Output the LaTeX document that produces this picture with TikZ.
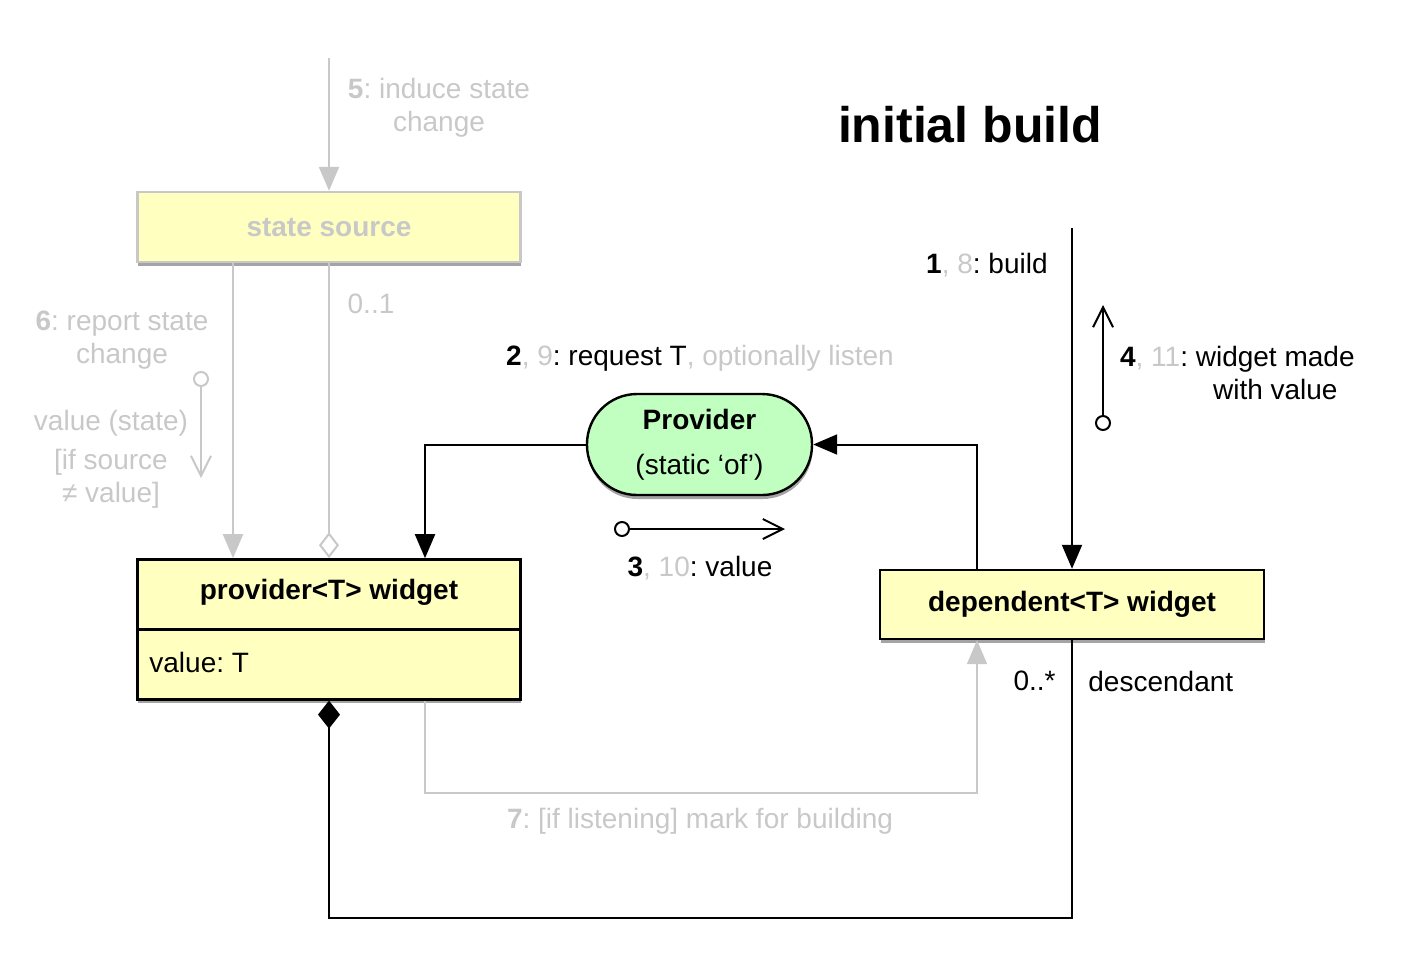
\documentclass[tikz,border=0pt]{standalone}
\usepackage{fontspec}
\setmainfont{Liberation Sans}
\usetikzlibrary{arrows.meta,positioning,shadows}
\definecolor{notegray}{RGB}{200,200,200}
\definecolor{classyellow}{RGB}{255,255,192}
\definecolor{provgreen}{RGB}{192,255,192}
\frenchspacing

\begin{document}
\begin{tikzpicture}[x=0.5pt, y=-0.5pt,
		every node/.style={font=\fontsize{14}{16.5}\selectfont, inner sep=0pt},
		boxshadow/.style={drop shadow={shadow xshift=0.3pt, shadow yshift=-2pt, opacity=0.55, fill=black!65}},
		classbox/.style={draw, rectangle, fill=classyellow, line width=1.2pt, minimum width=191.5pt, boxshadow},
		srcbox/.style={classbox, draw=notegray, text=notegray, minimum height=35pt},
		provnode/.style={draw, fill=provgreen, line width=1.2pt, rounded corners=25pt, minimum width=112.5pt, minimum height=50.5pt, align=center, boxshadow},
		note/.style={text=notegray},
		callline/.style={line width=1pt, -{Triangle[length=12pt, width=10pt]}},
		noteline/.style={line width=1pt, draw=notegray, -{Triangle[length=12pt, width=10pt]}},
		msgline/.style={line width=1pt, {Circle[open, length=8pt]}-{Straight Barb[length=10pt, width=10pt]}}]
	\useasboundingbox (0,0) rectangle (1408,966);
	
	\node[font=\fontsize{25}{30}\selectfont\bfseries] (title) at (970,125) {initial build};
	
	\node[srcbox] (src) at (329,227) {\textbf{state source}};
	
	\node[classbox, minimum height=70pt, below=147.5pt of src] (pw) {};
	\node (pwname) at (329,592) {\textbf{provider<T> widget}};
	\node[anchor=west] (pwattr) at (149,662) {value: T};
	\draw[line width=1.2pt] (pw.west) -- (pw.east);
	
	\node[provnode] (prov) at (699.5,444.5) {\textbf{Provider}\\[6pt](static ‘of’)};
	
	\node[classbox, minimum width=192pt, minimum height=34.5pt] (dw) at (1072,604.5) {\textbf{dependent<T> widget}};
	
	\coordinate (inducetop) at (329,58);
	\coordinate (buildtop) at (1072,228);
	\coordinate (m3a) at (614,529);
	\coordinate (m3b) at (785,529);
	\coordinate (m4a) at (1103,431);
	\coordinate (m4b) at (1103,305);
	\coordinate (m6a) at (201,371);
	\coordinate (m6b) at (201,478);
	
	\node[note, align=center] (inducelbl) at (439,108) {\textbf{5}: induce state\\change};
	\node[note, align=center] (reportlbl) at (122,340) {\textbf{6}: report state\\change};
	\node[note] (srcmult) at (371,304) {0..1};
	\node[note, align=center] (statelbl) at (111,459) {value (state)\\[3pt]{}[if source\\≠ value]};
	\node[anchor=east] (buildlbl) at (1048,265) {\textbf{1}\textcolor{notegray}{, 8}: build};
	\node[anchor=east, align=right] (madelbl) at (1355,373) {\textbf{4}\textcolor{notegray}{, 11}: widget made\\with value\hspace*{8.5pt}};
	\node (reqlbl) at (700,358) {\textbf{2}\textcolor{notegray}{, 9}: request T\textcolor{notegray}{, optionally listen}};
	\node (vallbl) at (700,568) {\textbf{3}\textcolor{notegray}{, 10}: value};
	\node[note] (marklbl) at (700,821) {\textbf{7}: [if listening] mark for building};
	\node[anchor=east] (dwmult) at (1056,681) {0..*};
	\node[anchor=west] (desclbl) at (1088,681) {descendant};
	
	\draw[noteline] (inducetop) -- (src);
	\draw[noteline] ([xshift=-48pt]src.south) -- ([xshift=-48pt]pw.north);
	\draw[line width=1pt, draw=notegray, -{Diamond[open, length=13pt, width=10pt]}] (src.south) -- (pw.north);
	\draw[msgline, draw=notegray] (m6a) -- (m6b);
	
	\draw[callline] (prov.west) -| ([xshift=48pt]pw.north);
	\draw[callline] ([xshift=-47.5pt]dw.north) |- (prov.east);
	\draw[callline] (buildtop) -- (dw.north);
	\draw[msgline] (m3a) -- (m3b);
	\draw[msgline] (m4a) -- (m4b);
	
	\draw[noteline] ([xshift=48pt]pw.south) -- ++(0,92) -| ([xshift=-47.5pt]dw.south);
	\draw[line width=1pt, {Diamond[length=14pt, width=11pt]}-] (pw.south) -- ++(0,217) -| (dw.south);
\end{tikzpicture}
\end{document}
